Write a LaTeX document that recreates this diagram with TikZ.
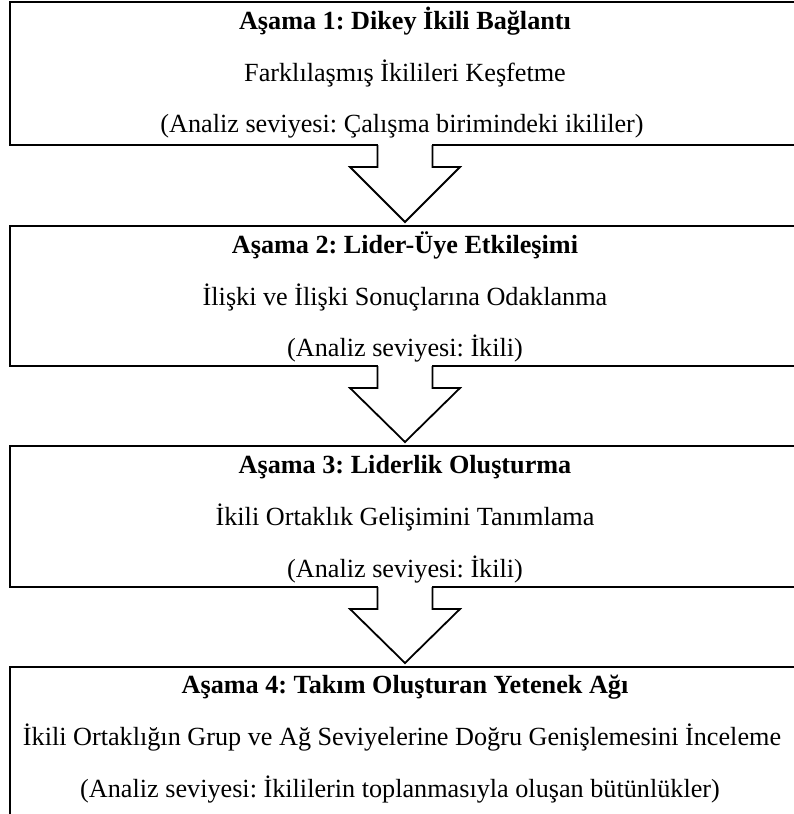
\documentclass[tikz,border=0pt]{standalone}
\usepackage{fontspec}
\setmainfont{Liberation Serif}
\frenchspacing
\usetikzlibrary{calc}

\begin{document}
\begin{tikzpicture}[x=1pt,y=-1pt,
        stagebox/.style={draw, line width=2.2pt, minimum width=790pt, inner sep=0pt, outer sep=0pt, anchor=north west},
        arrowline/.style={line width=1.8pt, line join=miter},
        txt/.style={anchor=base, inner sep=0pt, font=\fontsize{26.2}{32}\selectfont}]
        \useasboundingbox (0,0) rectangle (794,814);
        \clip (0,0) rectangle (794,814);
        % stages
        \node[stagebox, minimum height=143pt] (s1) at (10,2) {};
        \node[stagebox, minimum height=140pt] (s2) at (10,226) {};
        \node[stagebox, minimum height=141pt] (s3) at (10,446) {};
        \node[stagebox, minimum height=180pt] (s4) at (10,667) {};
        \node[txt] (t1) at (405,29) {\textbf{Aşama 1: Dikey İkili Bağlantı}};
        \node[txt] (d1) at (405,81) {Farklılaşmış İkilileri Keşfetme};
        \node[txt] (a1) at (402,132) {(Analiz seviyesi: Çalışma birimindeki ikililer)};
        \node[txt] (t2) at (405,253) {\textbf{Aşama 2: Lider-Üye Etkileşimi}};
        \node[txt] (d2) at (405,305) {İlişki ve İlişki Sonuçlarına Odaklanma};
        \node[txt] (a2) at (405,356) {(Analiz seviyesi: İkili)};
        \node[txt] (t3) at (405,473) {\textbf{Aşama 3: Liderlik Oluşturma}};
        \node[txt] (d3) at (405,525) {İkili Ortaklık Gelişimini Tanımlama};
        \node[txt] (a3) at (405,577) {(Analiz seviyesi: İkili)};
        \node[txt] (t4) at (405,693) {\textbf{Aşama 4: Takım Oluşturan Yetenek Ağı}};
        \node[txt] (d4) at (402,745) {İkili Ortaklığın Grup ve Ağ Seviyelerine Doğru Genişlemesini İnceleme};
        \node[txt] (a4) at (400,797) {(Analiz seviyesi: İkililerin toplanmasıyla oluşan bütünlükler)};
        % block arrows
        \foreach \a/\b in {s1/s2, s2/s3, s3/s4}
        {
            \fill[white] ([xshift=-26.6pt,yshift=2pt]\a.south) rectangle ([xshift=26.6pt,yshift=-2pt]\a.south);
            \draw[arrowline] ([xshift=-27.5pt]\a.south) -- ++(0,22) coordinate (h)
                -- ++(-27.5,0) -- ([yshift=4pt]\b.north) -- ($(h)+(82.5,0)$)
                -- ++(-27.5,0) -- ++(0,-22);
        }
    \end{tikzpicture}
\end{document}
